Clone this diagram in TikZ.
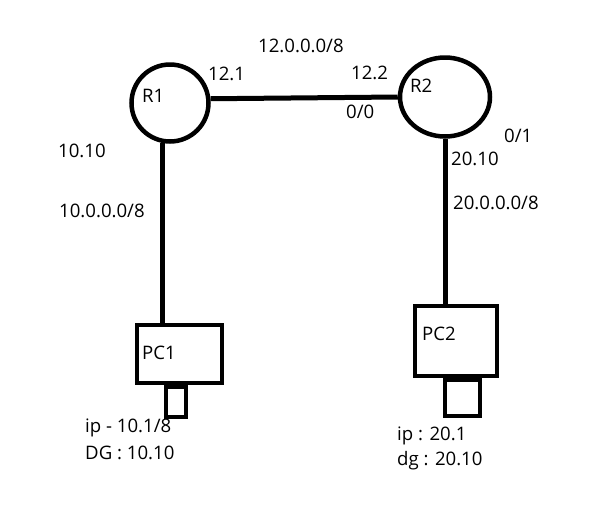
\documentclass[tikz,border=0pt]{standalone}
\usepackage{fontspec}
\setmainfont{Open Sans}
\usetikzlibrary{positioning, shapes.geometric, calc}
\tikzset{
  router/.style={draw=black, line width=4.5pt, inner sep=0pt},
  pcbox/.style={draw=black, line width=4.5pt, rectangle, inner sep=0pt},
  plug/.style={draw=black, line width=4pt, rectangle, inner sep=0pt},
  wire/.style={draw=black, line width=5pt},
  lbl/.style={anchor=west, inner sep=0pt, font=\fontsize{18.6}{20}\selectfont},
}
\begin{document}
\begin{tikzpicture}[x=1pt, y=-1pt]
  \useasboundingbox (0,0) rectangle (592,515);

  %% ── Routers ──
  \node[router, circle, minimum size=77pt] (R1) at (170,103) {};
  \node[router, ellipse, minimum width=90pt, minimum height=79pt] (R2) at (445,97) {};
  \node[lbl] (R1name) at (142,96) {R1};
  \node[lbl] (R2name) at (410,86) {R2};

  %% ── PCs ──
  \node[pcbox, minimum width=85pt, minimum height=58pt] (PC1) at (179.5,354) {};
  \node[plug, minimum width=20pt, minimum height=30pt, anchor=north] (plug1) at ($(PC1.south)+(-3.5,0)$) {};
  \node[pcbox, minimum width=82pt, minimum height=70pt] (PC2) at (456,341) {};
  \node[plug, minimum width=35pt, minimum height=36pt, anchor=north] (plug2) at ($(PC2.south)+(6.5,0)$) {};
  \node[lbl] (PC1name) at (142,353) {PC1};
  \node[lbl] (PC2name) at (422,334) {PC2};

  %% ── Links ──
  \draw[wire] (R1.6) -- (R2.west);
  \draw[wire] (R1.260) -- (R1.260 |- PC1.north);
  \draw[wire] (R2.south) -- (R2.south |- PC2.north);

  %% ── Addresses ──
  \node[lbl] (net12) at (258,46) {12.0.0.0/8};
  \node[lbl] (if121) at (208,74) {12.1};
  \node[lbl] (if122) at (351,73) {12.2};
  \node[lbl] (port00) at (346,112) {0/0};
  \node[lbl] (port01) at (504,136) {0/1};
  \node[lbl] (if1010) at (58,151) {10.10};
  \node[lbl] (net10) at (59,211) {10.0.0.0/8};
  \node[lbl] (if2010) at (451,159) {20.10};
  \node[lbl] (net20) at (453,203) {20.0.0.0/8};
  \node[lbl] (ip1) at (85,428) {ip - 10.1/8};
  \node[lbl] (dg1) at (85,453) {DG : 10.10};
  \node[lbl] (ip2) at (397,436) {ip : 20.1};
  \node[lbl] (dg2) at (397,461) {dg : 20.10};
\end{tikzpicture}
\end{document}
